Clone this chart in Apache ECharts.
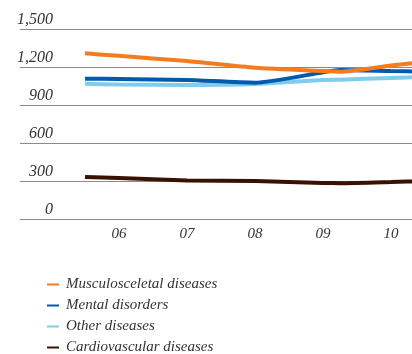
<!DOCTYPE html>
<html>
<head>
<meta charset="utf-8">
<script src="https://cdn.jsdelivr.net/npm/echarts@6/dist/echarts.min.js"></script>
<style>
  html, body { margin: 0; padding: 0; background: #fff; }
  #chart { width: 412px; height: 354px; }
</style>
</head>
<body>
<div id="chart"></div>
<script>
// Sick-leave cases by diagnosis group, 2005–2010
const years = [5.5, 6, 7, 8, 9, 9.25, 10, 10.5];
const yearTicks = [6, 7, 8, 9, 10];
const musculoskeletal = [1308, 1288, 1247, 1194, 1168, 1163, 1212, 1240];
const mental = [1108, 1105, 1097, 1076, 1158, 1176, 1168, 1163];
const other = [1068, 1062, 1058, 1066, 1097, 1100, 1113, 1122];
const cardiovascular = [332, 324, 304, 300, 285, 283, 292, 300];

const seriesNames = ['Musculosceletal diseases', 'Mental disorders', 'Other diseases', 'Cardiovascular diseases'];
const seriesValues = [musculoskeletal, mental, other, cardiovascular];
const colors = ['#F47B20', '#005BAC', '#7FCCEE', '#3A1000'];

const font = 'Liberation Serif';

const chart = echarts.init(document.getElementById('chart'));
chart.setOption({
  animation: false,
  grid: { left: 20, right: 0, top: 29, bottom: 135 },
  xAxis: {
    type: 'value',
    min: 4.544,
    max: 10.309,
    axisLine: { show: false },
    axisTick: { show: false },
    splitLine: { show: false },
    axisLabel: {
      customValues: yearTicks,
      formatter: v => String(Math.round(v)).padStart(2, '0'),
      fontFamily: font,
      fontStyle: 'italic',
      fontSize: 15,
      color: '#333',
      margin: 8
    }
  },
  yAxis: {
    type: 'value',
    min: 0,
    max: 1500,
    interval: 300,
    axisLine: { show: false },
    axisTick: { show: false },
    splitLine: { lineStyle: { color: '#8a8a8a', width: 1 } },
    axisLabel: {
      inside: false,
      align: 'right',
      margin: -33,
      verticalAlign: 'bottom',
      padding: [0, 0, 1, 0],
      formatter: v => v.toLocaleString('en-US'),
      fontFamily: font,
      fontStyle: 'italic',
      fontSize: 16,
      color: '#333'
    }
  },
  legend: {
    orient: 'vertical',
    left: 47,
    top: 277,
    padding: 0,
    height: 80,
    icon: 'rect',
    itemWidth: 12,
    itemHeight: 2,
    itemGap: 6,
    textStyle: {
      fontFamily: font,
      fontStyle: 'italic',
      fontSize: 15,
      lineHeight: 15,
      color: '#333',
      padding: [0, 0, 0, 2]
    },
    data: seriesNames
  },
  series: seriesNames.map((name, i) => ({
    name,
    type: 'line',
    data: years.map((x, j) => [x, seriesValues[i][j]]),
    showSymbol: false,
    smooth: 0.2,
    clip: true,
    lineStyle: { color: colors[i], width: 4 },
    itemStyle: { color: colors[i] },
    z: 10 - i
  }))
});
</script>
</body>
</html>
